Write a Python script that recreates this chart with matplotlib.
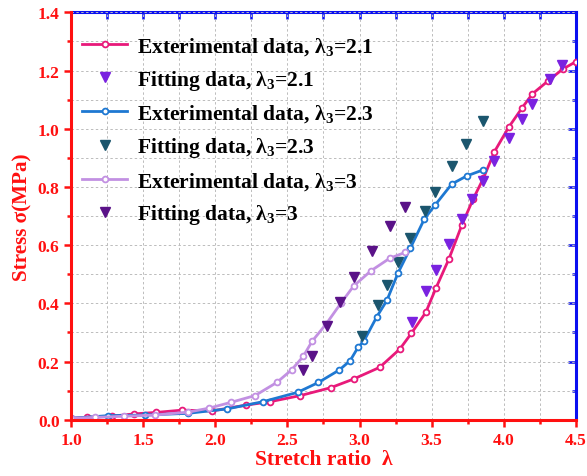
import numpy as np
import matplotlib
matplotlib.use('Agg')
import matplotlib.pyplot as plt
from matplotlib.ticker import MultipleLocator, FormatStrFormatter

# experimental data, lambda3 = 2.1
exp21_x = [1.0, 1.107, 1.28, 1.435, 1.588, 1.77, 1.975, 2.21, 2.38, 2.59, 2.80, 2.96,
           3.14, 3.28, 3.36, 3.46, 3.53, 3.62, 3.71, 3.79, 3.86, 3.935, 4.035, 4.13,
           4.20, 4.31, 4.41, 4.5]
exp21_y = [0.005, 0.008, 0.012, 0.02, 0.025, 0.033, 0.03, 0.05, 0.062, 0.083, 0.11, 0.14,
           0.18, 0.243, 0.297, 0.369, 0.452, 0.552, 0.669, 0.76, 0.83, 0.92, 1.005, 1.073,
           1.12, 1.165, 1.205, 1.23]
fit21_x = [3.365, 3.46, 3.53, 3.62, 3.71, 3.78, 3.855, 3.935, 4.035, 4.13, 4.20, 4.325, 4.405]
fit21_y = [0.335, 0.443, 0.515, 0.604, 0.69, 0.758, 0.822, 0.888, 0.967, 1.035, 1.085, 1.17, 1.219]

# experimental data, lambda3 = 2.3
exp23_x = [1.0, 1.257, 1.51, 1.81, 2.08, 2.33, 2.57, 2.715, 2.86, 2.935, 2.99, 3.03,
           3.12, 3.19, 3.267, 3.352, 3.45, 3.525, 3.64, 3.745, 3.86]
exp23_y = [0.005, 0.014, 0.016, 0.022, 0.037, 0.062, 0.094, 0.128, 0.171, 0.203, 0.249, 0.27,
           0.354, 0.41, 0.504, 0.589, 0.69, 0.738, 0.81, 0.838, 0.859]
fit23_x = [3.02, 3.125, 3.19, 3.267, 3.352, 3.456, 3.525, 3.64, 3.74, 3.86]
fit23_y = [0.289, 0.394, 0.463, 0.543, 0.623, 0.718, 0.783, 0.873, 0.947, 1.027]

# experimental data, lambda3 = 3
exp3_x = [1.0, 1.165, 1.366, 1.58, 1.81, 1.958, 2.11, 2.275, 2.426, 2.53, 2.61, 2.67,
          2.77, 2.87, 2.96, 3.08, 3.21, 3.317]
exp3_y = [0.005, 0.008, 0.012, 0.016, 0.026, 0.04, 0.06, 0.083, 0.128, 0.172, 0.218, 0.269,
          0.33, 0.40, 0.46, 0.512, 0.555, 0.575]
fit3_x = [2.61, 2.67, 2.775, 2.865, 2.96, 3.085, 3.21, 3.317]
fit3_y = [0.172, 0.218, 0.323, 0.403, 0.489, 0.581, 0.665, 0.73]

plt.rcParams['font.family'] = ['Liberation Serif', 'DejaVu Serif']
plt.rcParams['font.weight'] = 'bold'
plt.rcParams['mathtext.fontset'] = 'custom'
plt.rcParams['mathtext.rm'] = 'Liberation Serif:bold'
plt.rcParams['mathtext.it'] = 'Liberation Serif:bold'
plt.rcParams['mathtext.bf'] = 'Liberation Serif:bold'

red = '#ff1010'
blue = '#0a10f0'

fig = plt.figure(figsize=(5.87, 4.77), dpi=100)
ax = fig.add_axes([0.1215, 0.118, 0.8592, 0.854])

ax.plot(exp21_x, exp21_y, '-o', color='#e8197a', lw=2, ms=4.2, mfc='white', mew=1.3,
        label='Exterimental data, λ$_3$=2.1')
ax.plot(fit21_x, fit21_y, 'v', color='#7a22e0', ms=7.5, ls='none',
        label='Fitting data, λ$_3$=2.1')
ax.plot(exp23_x, exp23_y, '-o', color='#1e78d2', lw=2, ms=4.2, mfc='white', mew=1.3,
        label='Exterimental data, λ$_3$=2.3')
ax.plot(fit23_x, fit23_y, 'v', color='#1b566e', ms=7.5, ls='none',
        label='Fitting data, λ$_3$=2.3')
ax.plot(exp3_x, exp3_y, '-o', color='#c290e2', lw=2, ms=4.2, mfc='white', mew=1.3,
        label='Exterimental data, λ$_3$=3')
ax.plot(fit3_x, fit3_y, 'v', color='#5a1288', ms=7.5, ls='none',
        label='Fitting data, λ$_3$=3')

ax.set_xlim(1.0, 4.5)
ax.set_ylim(0.0, 1.4)
ax.xaxis.set_major_locator(MultipleLocator(0.5))
ax.xaxis.set_minor_locator(MultipleLocator(0.25))
ax.yaxis.set_major_locator(MultipleLocator(0.2))
ax.yaxis.set_minor_locator(MultipleLocator(0.1))
ax.xaxis.set_major_formatter(FormatStrFormatter('%.1f'))
ax.yaxis.set_major_formatter(FormatStrFormatter('%.1f'))
ax.grid(True, which='both', color='#bcbcbc', ls=(0, (2.5, 2.5)), lw=0.7)
ax.set_axisbelow(True)

ax.tick_params(which='both', direction='out', colors=red, width=1.8, labelsize=12.5,
               labelcolor=red)
ax.tick_params(which='major', length=5)
ax.tick_params(which='minor', length=3)
for s in ['left', 'bottom']:
    ax.spines[s].set_color(red)
    ax.spines[s].set_linewidth(2.2)
for s in ['top', 'right']:
    ax.spines[s].set_visible(False)

# blue top/right frame with inward ticks
top = ax.secondary_xaxis('top')
top.xaxis.set_major_locator(MultipleLocator(0.5))
top.xaxis.set_minor_locator(MultipleLocator(0.25))
top.tick_params(which='both', direction='in', colors=blue, width=1.8, labeltop=False)
top.tick_params(which='major', length=5)
top.tick_params(which='minor', length=5)
top.spines['top'].set_color(blue)
top.spines['top'].set_linewidth(2.2)
right = ax.secondary_yaxis('right')
right.yaxis.set_major_locator(MultipleLocator(0.2))
right.yaxis.set_minor_locator(MultipleLocator(0.1))
right.tick_params(which='both', direction='in', colors=blue, width=1.8, labelright=False)
right.tick_params(which='major', length=6)
right.tick_params(which='minor', length=3)
right.spines['right'].set_color(blue)
right.spines['right'].set_linewidth(2.2)

ax.set_xlabel('Stretch ratio  λ', color=red, fontsize=15.5, fontweight='bold', labelpad=1)
ax.set_ylabel('Stress σ(MPa)', color=red, fontsize=15.2, fontweight='bold', labelpad=4)

leg = ax.legend(loc='upper left', bbox_to_anchor=(0.005, 0.965), frameon=False,
                handlelength=2.05, labelspacing=0.5, borderaxespad=0, handletextpad=0.47,
                prop={'family': 'Liberation Serif', 'weight': 'bold', 'size': 15.5})

fig.savefig('out.png', dpi=100)
